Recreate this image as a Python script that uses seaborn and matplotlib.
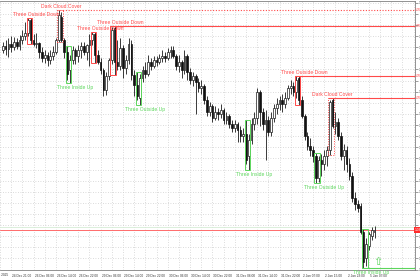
import numpy as np
import pandas as pd
import matplotlib
matplotlib.use("Agg")
import matplotlib.pyplot as plt
import matplotlib.transforms as mtransforms
from matplotlib.patches import Rectangle
import seaborn as sns

# ---------------- data (hourly candles) ----------------
open_px = [1.0550,1.0554,1.0551,1.0556,1.0553,1.0558,1.0554,1.0560,1.0564,1.0567,
           1.0580,1.0560,1.0556,1.0557,1.0548,1.0542,1.0545,1.0540,1.0544,1.0548,
           1.0560,1.0583,1.0560,1.0548,1.0530,1.0540,1.0550,1.0544,1.0550,1.0554,
           1.0548,1.0555,1.0560,1.0566,1.0545,1.0538,1.0530,1.0510,1.0524,1.0540,
           1.0572,1.0538,1.0534,1.0552,1.0532,1.0540,1.0556,1.0525,1.0515,1.0502,
           1.0522,1.0530,1.0526,1.0538,1.0534,1.0540,1.0538,1.0542,1.0544,1.0542,
           1.0548,1.0550,1.0544,1.0534,1.0538,1.0530,1.0544,1.0528,1.0520,1.0524,
           1.0518,1.0512,1.0514,1.0500,1.0488,1.0494,1.0482,1.0488,1.0486,1.0490,
           1.0480,1.0484,1.0476,1.0472,1.0476,1.0470,1.0464,1.0466,1.0444,1.0460,
           1.0476,1.0482,1.0508,1.0488,1.0476,1.0480,1.0468,1.0482,1.0492,1.0496,
           1.0500,1.0496,1.0502,1.0512,1.0514,1.0508,1.0522,1.0500,1.0484,1.0464,
           1.0454,1.0450,1.0444,1.0422,1.0440,1.0436,1.0444,1.0450,1.0500,1.0474,
           1.0478,1.0464,1.0444,1.0450,1.0436,1.0424,1.0402,1.0396,1.0394,1.0368,
           1.0342,1.0354,1.0364,1.0368]
high_px = [1.0558,1.0560,1.0562,1.0564,1.0563,1.0562,1.0565,1.0570,1.0578,1.0582,
           1.0582,1.0566,1.0567,1.0558,1.0553,1.0550,1.0548,1.0550,1.0554,1.0562,
           1.0590,1.0588,1.0562,1.0554,1.0545,1.0554,1.0552,1.0555,1.0558,1.0558,
           1.0556,1.0566,1.0568,1.0568,1.0550,1.0542,1.0532,1.0528,1.0542,1.0573,
           1.0574,1.0560,1.0562,1.0555,1.0545,1.0562,1.0560,1.0530,1.0528,1.0526,
           1.0534,1.0538,1.0545,1.0542,1.0544,1.0544,1.0546,1.0550,1.0548,1.0552,
           1.0554,1.0554,1.0546,1.0545,1.0540,1.0550,1.0546,1.0532,1.0528,1.0526,
           1.0522,1.0520,1.0516,1.0504,1.0498,1.0496,1.0494,1.0492,1.0496,1.0492,
           1.0488,1.0486,1.0480,1.0480,1.0478,1.0474,1.0472,1.0480,1.0466,1.0482,
           1.0488,1.0512,1.0510,1.0492,1.0490,1.0484,1.0488,1.0496,1.0502,1.0504,
           1.0506,1.0508,1.0515,1.0520,1.0518,1.0524,1.0524,1.0504,1.0486,1.0468,
           1.0462,1.0454,1.0447,1.0444,1.0446,1.0450,1.0454,1.0500,1.0502,1.0488,
           1.0482,1.0468,1.0456,1.0454,1.0442,1.0428,1.0408,1.0400,1.0397,1.0371,
           1.0362,1.0368,1.0373,1.0374]
low_px = [1.0547,1.0545,1.0543,1.0548,1.0550,1.0551,1.0550,1.0556,1.0560,1.0564,
          1.0556,1.0554,1.0552,1.0542,1.0538,1.0537,1.0534,1.0536,1.0540,1.0546,
          1.0558,1.0558,1.0542,1.0520,1.0517,1.0536,1.0536,1.0538,1.0542,1.0545,
          1.0540,1.0534,1.0555,1.0537,1.0536,1.0526,1.0504,1.0505,1.0520,1.0536,
          1.0525,1.0530,1.0530,1.0522,1.0526,1.0536,1.0520,1.0504,1.0500,1.0495,
          1.0518,1.0522,1.0524,1.0530,1.0532,1.0534,1.0536,1.0538,1.0538,1.0540,
          1.0542,1.0542,1.0530,1.0528,1.0522,1.0526,1.0520,1.0516,1.0514,1.0486,
          1.0508,1.0506,1.0496,1.0484,1.0484,1.0478,1.0480,1.0480,1.0482,1.0476,
          1.0476,1.0472,1.0468,1.0468,1.0458,1.0458,1.0458,1.0436,1.0430,1.0456,
          1.0470,1.0476,1.0474,1.0470,1.0440,1.0464,1.0464,1.0478,1.0486,1.0490,
          1.0488,1.0492,1.0500,1.0506,1.0504,1.0502,1.0495,1.0482,1.0460,1.0450,
          1.0444,1.0438,1.0417,1.0418,1.0424,1.0430,1.0434,1.0445,1.0472,1.0466,
          1.0460,1.0440,1.0430,1.0428,1.0420,1.0398,1.0390,1.0388,1.0366,1.0332,
          1.0334,1.0350,1.0360,1.0362]
close_px = [1.0554,1.0551,1.0556,1.0553,1.0558,1.0554,1.0560,1.0564,1.0567,1.0580,
            1.0560,1.0556,1.0557,1.0548,1.0542,1.0545,1.0540,1.0544,1.0548,1.0560,
            1.0585,1.0560,1.0548,1.0526,1.0540,1.0550,1.0544,1.0550,1.0554,1.0548,
            1.0555,1.0560,1.0566,1.0545,1.0538,1.0530,1.0510,1.0524,1.0540,1.0570,
            1.0538,1.0534,1.0552,1.0532,1.0540,1.0556,1.0525,1.0515,1.0504,1.0522,
            1.0530,1.0526,1.0538,1.0534,1.0540,1.0538,1.0542,1.0544,1.0542,1.0548,
            1.0550,1.0544,1.0534,1.0538,1.0530,1.0544,1.0528,1.0520,1.0524,1.0518,
            1.0512,1.0514,1.0500,1.0488,1.0494,1.0482,1.0488,1.0486,1.0490,1.0480,
            1.0484,1.0476,1.0472,1.0476,1.0470,1.0464,1.0466,1.0440,1.0460,1.0476,
            1.0482,1.0508,1.0488,1.0476,1.0480,1.0468,1.0482,1.0492,1.0496,1.0500,
            1.0496,1.0502,1.0512,1.0514,1.0508,1.0520,1.0500,1.0484,1.0464,1.0454,
            1.0450,1.0444,1.0422,1.0440,1.0436,1.0444,1.0450,1.0498,1.0474,1.0478,
            1.0464,1.0444,1.0450,1.0436,1.0424,1.0402,1.0396,1.0392,1.0368,1.0338,
            1.0356,1.0366,1.0370,1.0370]

time_labels = ["24 Dec 21:00", "26 Dec 06:00", "26 Dec 14:00", "26 Dec 22:00",
               "29 Dec 06:00", "29 Dec 14:00", "29 Dec 22:00", "30 Dec 06:00",
               "30 Dec 14:00", "30 Dec 22:00", "31 Dec 06:00", "31 Dec 14:00",
               "31 Dec 22:00", "2 Jan 07:00", "2 Jan 15:00", "2 Jan 23:00",
               "5 Jan 07:00"]
first_label = "24 Dec 2025"

pattern_start = [9, 20, 23, 32, 39, 48, 87, 105, 112, 117, 129]
pattern_name = ["Three Outside Down", "Dark Cloud Cover", "Three Inside Up",
                "Three Outside Down", "Three Outside Down", "Three Outside Up",
                "Three Inside Up", "Three Outside Down", "Three Outside Up",
                "Dark Cloud Cover", "Three Inside Up"]
level_patterns = [20, 39, 105, 117, 129]
bid_price = 1.0370
ask_price = 1.0373

# ---------------- style ----------------
sns.set_theme(style="white")
plt.rcParams['font.family'] = ['Liberation Sans', 'DejaVu Sans']

RED = '#ff4a4a'
GREEN = '#5cd65c'
W, H = 420, 280
ax_left, ax_right, ax_top, ax_bottom = 0, 415, 1, 270

fig = plt.figure(figsize=(W / 100, H / 100), dpi=100, facecolor='white')
ax = fig.add_axes([ax_left / W, (H - ax_bottom) / H,
                   (ax_right - ax_left) / W, (ax_bottom - ax_top) / H])
ax.set_facecolor('white')

df = pd.DataFrame(dict(o=open_px, h=high_px, l=low_px, c=close_px))
df['i'] = np.arange(len(df))

step = 2.81
x0 = -0.6 / step
x1 = x0 + (ax_right - ax_left) / step
ax.set_xlim(x0, x1)
ax.set_ylim(1.0330, 1.0599)

# pattern boxes / levels (computed first so tick labels can avoid the tags)
patterns = []
for s, name in zip(pattern_start, pattern_name):
    bear = ('Down' in name) or ('Dark' in name)
    seg = df.iloc[s:s + 2]
    patterns.append((s, name, bear, seg.h.max(), seg.l.min()))
tag_levels = [top for s, n, b, top, bot in patterns if s in level_patterns and b]
tag_levels.append(bid_price)

# grid / ticks
ax.set_xticks(3 + 8 * np.arange(len(time_labels)))
ax.set_xticklabels(time_labels)
ax.set_xticks(np.arange(-1, x1, 4), minor=True)
yt = 1.04972 + 0.001112 * np.arange(-15, 10)
yt = yt[(yt > 1.0330) & (yt < 1.0599)]
ax.set_yticks(yt)
ax.set_yticklabels(["" if min(abs(v - t) for t in tag_levels) < 0.0005
                    else f"{v:.5f}" for v in yt])
ax.yaxis.tick_right()
ax.grid(True, which='both', axis='x', ls=(0, (1, 2)), color='#cfcfcf', lw=0.6)
ax.grid(True, which='major', axis='y', ls=(0, (1, 2)), color='#cfcfcf', lw=0.6)
ax.tick_params(axis='x', which='major', length=2, width=0.5, color='#777',
               labelsize=2.3, labelcolor='#333', pad=1)
ax.tick_params(axis='x', which='minor', length=0)
ax.tick_params(axis='y', length=2, width=0.5, color='#777', labelsize=2.3,
               labelcolor='#333', pad=1)
off = mtransforms.ScaledTranslation(1 / 100, 0, fig.dpi_scale_trans)
for lab in ax.get_xticklabels():
    lab.set_ha('left')
    lab.set_transform(lab.get_transform() + off)
ax.text(3 - 8, -3.5 / (ax_bottom - ax_top), first_label,
        transform=ax.get_xaxis_transform() + off, fontsize=2.3, color='#333',
        ha='left', va='top', clip_on=False)

for side in ['top', 'right', 'bottom']:
    ax.spines[side].set_color('#808080')
    ax.spines[side].set_linewidth(0.6)
ax.spines['left'].set_visible(False)

# bid / ask lines
ax.axhline(ask_price, color='#d6ecd6', lw=0.6, zorder=1)
ax.axhline(bid_price, color='#ff6b6b', lw=0.7, zorder=1)

# candles
up = df.c >= df.o
ax.vlines(df.i, df.l, df.h, color='#1a1a1a', lw=0.6, zorder=2)
ax.bar(df.i[up], (df.c - df.o)[up], bottom=df.o[up], width=0.62,
       facecolor='white', edgecolor='#1a1a1a', lw=0.5, zorder=3)
ax.bar(df.i[~up], (df.c - df.o)[~up], bottom=df.o[~up], width=0.62,
       facecolor='#111111', edgecolor='#111111', lw=0.5, zorder=3)

# patterns
blend = mtransforms.blended_transform_factory(ax.transAxes, ax.transData)
px_price = 0.0001
for s, name, bear, top, bot in patterns:
    col = RED if bear else GREEN
    ls = (0, (1, 1.5)) if 'Dark' in name else '-'
    ax.add_patch(Rectangle((s - 0.5, bot), 2.0, top - bot, fill=False,
                           ec=col, lw=0.7, ls=ls, zorder=4))
    dx = 0.5 if 'Dark' in name else 2.4
    if bear:
        ax.text(s + 0.5 + dx, top + 1.5 * px_price, name, color=col,
                fontsize=3.6, ha='center', va='bottom', zorder=5)
    else:
        ax.text(s + 0.5 + dx, bot - 1.5 * px_price, name, color=col,
                fontsize=3.6, ha='center', va='top', zorder=5, clip_on=False)
    if s in level_patterns:
        lvl = top if bear else bot
        lls = (0, (1, 1.5)) if s == level_patterns[0] else '-'
        ax.hlines(lvl, s - 0.5, x1, color=col, lw=0.8, ls=lls, zorder=4)
        if bear:
            ax.text(1.0, lvl, f"{lvl:.5f}", transform=blend, fontsize=2.3,
                    color=RED, ha='left', va='center', clip_on=False)

# current price tag
ax.text(1.0, bid_price, f"{bid_price:.5f}", transform=blend, fontsize=2.3,
        color='white', ha='left', va='center', clip_on=False,
        bbox=dict(boxstyle='square,pad=0.3', fc='#ff2a2a', ec='none'))

# arrow marker after the last bullish pattern
ax.text(134.3, 1.0338, "\u21e7", color=GREEN, fontsize=8, ha='center',
        va='center', family=['DejaVu Sans'], zorder=5)

fig.savefig('out.png', dpi=100, facecolor='white')
